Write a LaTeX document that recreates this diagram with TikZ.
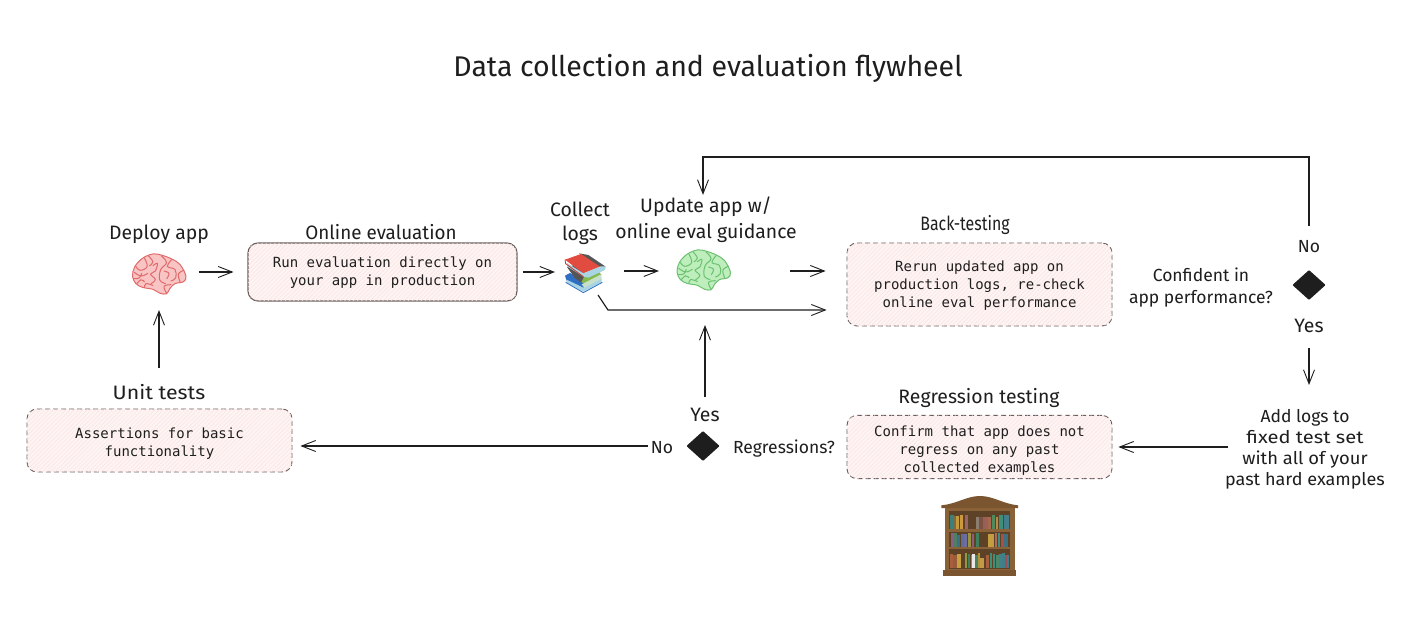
\documentclass[tikz,border=0pt]{standalone}
\usepackage{fontspec}
\usetikzlibrary{arrows.meta,shapes.geometric,patterns.meta}
\newfontfamily\handfont{Fira Sans}
\newfontfamily\monofont{DejaVu Sans Mono}
\definecolor{ink}{HTML}{1E1E1E}
\definecolor{boxfill}{HTML}{FDF4F3}
\definecolor{boxhatch}{HTML}{FBE4E2}
\definecolor{boxline}{HTML}{6A5C5C}
\definecolor{redfill}{HTML}{F9C4C4}
\definecolor{redline}{HTML}{E06A6A}
\definecolor{greenfill}{HTML}{BDEEBB}
\definecolor{greenline}{HTML}{6CC070}
\newcommand{\lift}[1]{\rule{0pt}{#1pt}}
\newcommand{\brainart}[3]{%
  \begin{scope}[shift={(#1)},x=.34pt,y=-.38pt]
    \draw[#3,fill=#2,line width=1pt] plot[smooth cycle,tension=.6] coordinates {(25,75)(32,50)(55,28)(85,17)(110,20)(140,30)(165,45)(182,75)(175,90)(150,95)(135,108)(125,122)(105,120)(85,110)(55,105)(35,95)};
    \foreach \fold in {
      {(60,28)(68,50)(48,60)(35,50)},
      {(72,22)(85,38)(75,48)},
      {(85,48)(98,42)(92,62)(78,70)(92,84)(80,95)},
      {(110,22)(125,40)(108,58)(105,85)(122,95)},
      {(140,32)(128,50)(150,58)(152,80)(138,88)},
      {(30,65)(50,75)(70,68)},
      {(27,82)(45,80)(52,68)},
      {(38,95)(50,85)(60,90)},
      {(60,105)(65,95)(85,100)},
      {(125,120)(118,102)(138,98)},
      {(165,90)(160,70)(176,60)},
      {(118,62)(132,68)(126,82)}}{
      \draw[#3,line width=1pt,line cap=round] plot[smooth,tension=.7] coordinates \fold;
    }
  \end{scope}}
\tikzset{
  hxfill/.code={\definecolor{hxc}{HTML}{#1}\pgfkeysalso{/tikz/fill=hxc}},
  hxdraw/.code={\definecolor{hxd}{HTML}{#1}\pgfkeysalso{/tikz/draw=hxd}},
  hw/.style={font=\handfont\fontsize{19.4}{24}\selectfont,text=ink,inner sep=0pt,align=center},
  hws/.style={font=\handfont\fontsize{17.5}{22}\selectfont,text=ink,inner sep=0pt,align=center},
  mono/.style={font=\monofont\fontsize{14}{18}\selectfont,text=ink,align=center},
  evalbox/.style={mono,draw=boxline,rounded corners=10pt,line width=.9pt,fill=boxfill,
    postaction={pattern={Lines[angle=45,distance=3pt,line width=.5pt]},pattern color=boxhatch}},
  solidbox/.style={evalbox,line width=1.1pt},
  dashbox/.style={evalbox,dash pattern=on 5pt off 3pt},
  decision/.style={diamond,fill=ink,draw=ink,line width=2pt,line join=round,inner sep=0pt,minimum width=31pt,minimum height=28pt},
  slot/.style={inner sep=0pt,outer sep=0pt},
  link/.style={draw=ink,line width=1.15pt,-{Straight Barb[length=14pt,width=11pt,line width=.9pt]}},
}
\begin{document}
\begin{tikzpicture}[x=1pt,y=-1pt]
\useasboundingbox[fill=white] (0,0) rectangle (1407,620);

\node[hw,font=\handfont\fontsize{28.5}{34}\selectfont] (title) at (708,68) {Data collection and evaluation flywheel};

% labels
\node[hw] (deploy) at (159,234) {Deploy app};
\node[hw] (onlinelbl) at (381,232) {\scalebox{.97}[1]{Online evaluation}};
\node[hw] (collect) at (580,223) {Collect\\logs};
\node[hw,font=\handfont\fontsize{19.4}{26}\selectfont] (update) at (706,220) {Update app w/\\online eval guidance};
\node[hw] (backlbl) at (965,225) {\scalebox{.82}[1]{Back-testing}};
\node[hws] (confident) at (1201,288) {Confident in\\app performance?};
\node[hws] (noA) at (1309,247) {No};
\node[hw] (yesA) at (1309,326) {Yes};
\node[hws,font=\handfont\fontsize{17.5}{21}\selectfont] (addlogs) at (1305,449) {Add logs to\\\scalebox{1.15}[1]{fixed test set}\\\scalebox{1.05}[1]{with all of your}\\\scalebox{1.03}[1]{past hard examples}};
\node[hw] (reglbl) at (979,398) {Regression testing};
\node[hws] (regq) at (784,449) {Regressions?};
\node[hws] (noB) at (662,448) {No};
\node[hw] (yesB) at (705,415) {Yes};
\node[hw] (unitlbl) at (159,392) {\scalebox{1.1}[1]{Unit tests}};

% boxes
\node[solidbox,minimum width=269pt,minimum height=58pt] (online) at (382.5,272) {\lift{12.6}Run evaluation directly on\\your app in production};
\node[dashbox,minimum width=265pt,minimum height=83pt] (back) at (979.5,284.5) {\lift{12.6}Rerun updated app on\\production logs, re-check\\online eval performance};
\node[dashbox,minimum width=265pt,minimum height=62pt] (regress) at (979.5,447) {\lift{17.6}Confirm that app does not\\regress on any past\\collected examples};
\node[dashbox,minimum width=265pt,minimum height=63pt] (unit) at (159.5,440.5) {\lift{16.6}Assertions for basic\\functionality};

% decisions
\node[decision] (decA) at (1309,285) {};
\node[decision] (decB) at (703,446) {};

% icon slots
\node[slot,minimum width=56pt,minimum height=42pt] (brainR) at (159.5,272) {};
\node[slot,minimum width=56pt,minimum height=42pt] (brainG) at (703,271) {};
\node[slot,minimum width=42pt,minimum height=40pt] (books) at (586,271) {};
\node[slot,minimum width=76pt,minimum height=81pt] (shelf) at (979.5,536) {};

% brains
\brainart{124,247.5}{redfill}{redline}
\brainart{668.5,243.5}{greenfill}{greenline}

% books
\begin{scope}[shift={(555,245)},x=.3333pt,y=-.3333pt,line join=round]
  \fill[hxfill=2E6FC4] (30,92) -- (45,84) -- (95,115) -- (85,130) -- (35,108) -- cycle;
  \fill[hxfill=A9D4E4] (35,104) -- (85,128) -- (140,100) -- (140,112) -- (85,140) -- (35,114) -- cycle;
  \draw[hxdraw=2E6FC4,line width=.8pt] (32,112) -- (85,143) -- (142,112);
  \fill[hxfill=86B84E] (70,104) -- (130,78) -- (140,90) -- (90,118) -- cycle;
  \fill[hxfill=C9E0C8] (80,118) -- (138,88) -- (140,100) -- (88,128) -- cycle;
  \fill[hxfill=555555] (36,66) -- (60,60) -- (90,90) -- (78,112) -- (60,100) -- cycle;
  \fill[hxfill=555555] (72,25) -- (100,30) -- (152,65) -- (125,65) -- cycle;
  \fill[hxfill=E24B3F] (30,44) -- (78,27) -- (135,65) -- (85,85) -- cycle;
  \fill[hxfill=A9D4E4] (36,54) -- (85,85) -- (135,65) -- (152,65) -- (150,75) -- (100,98) -- (85,95) -- (36,64) -- cycle;
  \draw[hxdraw=C23B32,line width=.8pt] (30,44) -- (32,56) -- (85,95);
\end{scope}

% bookcase
\begin{scope}[shift={(920,480)},x=.3333pt,y=-.3333pt,line join=round]
  \fill[hxfill=7A5530] (64,76) .. controls (110,72) and (140,48) .. (180,48) .. controls (220,48) and (250,72) .. (294,76) -- (294,84) -- (64,84) -- cycle;
  \fill[hxfill=8A6238] (75,84) rectangle (285,272);
  \fill[hxfill=5E4228] (88,92) rectangle (271,266);
  \fill[hxfill=8A6238] (88,148) rectangle (271,155);
  \fill[hxfill=8A6238] (88,201) rectangle (271,208);
  \fill[hxfill=7A5530] (70,270) rectangle (288,289);
  \foreach \bx/\bw/\bt/\bb/\bc in {
    89/12/106/147/3E7F78,102/8/108/147/7A6B46,109/9/108/147/C49A3C,119/10/105/147/CC9A3E,135/9/105/147/9A6468,
    168/9/112/147/8A7E70,178/10/110/147/7D5040,188/8/110/147/94605C,196/8/110/147/9E6050,205/9/110/147/A86850,
    215/11/105/147/4E8A5C,227/8/110/147/B98B48,236/12/105/147/3E8F78,251/7/106/147/4A7A88,258/10/106/147/447F8E,
    94/8/160/200/8A5C8A,102/9/160/200/4E8060,112/9/165/200/3E6F88,122/9/163/200/5C6F9A,132/9/163/200/6E6CA0,
    143/10/160/200/9A9440,155/8/163/200/8E5C7A,167/9/160/200/3E8060,
    204/10/163/200/C4A040,214/9/163/200/C49A48,224/8/160/200/B06A50,233/7/160/200/3E8F88,242/9/163/200/A85048,252/12/162/200/3E7080,
    89/10/222/264/A8603C,100/10/224/264/9A5A3C,112/11/222/264/C4A040,134/8/220/264/9A9440,143/7/222/264/3E8060,152/8/224/264/7A9078,
    157/7/222/264/E8E8E8,166/7/224/264/4E8060,173/8/220/264/B09438,181/10/234/264/C49A48,197/9/226/264/A8603C,
    209/8/220/264/3E8F78,218/8/222/264/3E8F78,227/9/225/264/4E8868,237/9/222/264/447F8E,246/8/220/264/3E7F88,255/8/224/264/9A5058,262/6/224/264/3E7F88
  }{
    \fill[hxfill=\bc] (\bx,\bt) rectangle ({\bx+\bw},\bb);
  }
\end{scope}

% connectors
\coordinate (booksOut) at (598,295);
\coordinate (booksBend) at (608,310);
\coordinate (topR) at (1309,157);
\coordinate (topL) at (703,157);
\draw[link,shorten <=11pt,shorten >=14pt] (brainR.east) -- (online.west);
\draw[link,shorten <=5pt,shorten >=10pt] (online.east) -- (online.east -| books.west);
\draw[link,shorten <=17pt,shorten >=16pt] (books.east) -- (brainG.west);
\draw[link,shorten <=59pt,shorten >=21pt] (brainG.east) -- (brainG.east -| back.west);
\draw[link,shorten >=20pt] (booksOut) -- (booksBend) -- (booksBend -| back.west);
\draw[link,shorten <=21pt,shorten >=2pt] (noA.center) -- (topR) -- (topL) -- (topL |- update.north);
\draw[link,shorten <=22pt,shorten >=64pt] (yesA.center) -- (yesA.center |- addlogs.center);
\draw[link,shorten <=77pt,shorten >=6pt] (addlogs.center |- regress.east) -- (regress.east);
\draw[link,shorten <=18pt,shorten >=15pt] (yesB.center) -- (yesB.center |- booksBend);
\draw[link,shorten <=14pt,shorten >=8pt] (noB.center |- decB.center) -- (decB.center -| unit.east);
\draw[link,shorten <=24pt,shorten >=17pt] (unitlbl.center) -- (brainR.south -| unitlbl.center);
\end{tikzpicture}
\end{document}
